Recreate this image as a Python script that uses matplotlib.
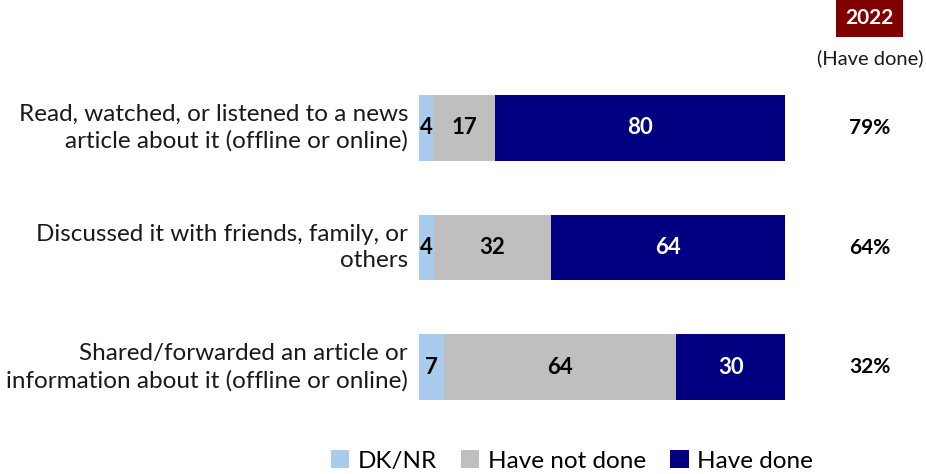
import matplotlib
matplotlib.use("Agg")
import matplotlib.pyplot as plt
from matplotlib.patches import Patch

categories = ["Read, watched, or listened to a news\narticle about it (offline or online)",
              "Discussed it with friends, family, or\nothers",
              "Shared/forwarded an article or\ninformation about it (offline or online)"]
dknr = [4, 4, 7]
not_done = [17, 32, 64]
done = [80, 64, 30]
pct_2022 = ["79%", "64%", "32%"]
series_names = ["DK/NR", "Have not done", "Have done"]
colors = ["#A9CBEE", "#BFBFBF", "#000080"]
label_colors = ["#000000", "#000000", "#FFFFFF"]

plt.rcParams['font.family'] = ['Lato', 'DejaVu Sans']

W, H = 926, 474
fig = plt.figure(figsize=(W/100, H/100), dpi=100)
# centers at 128 px and 367 px -> 119.5 px per row
ax = fig.add_axes([419/W, 1 - 427/H, (785-419)/W, (427-68)/H])

y = [0, 1, 2]
totals = [a + b + c for a, b, c in zip(dknr, not_done, done)]
left = [0.0, 0.0, 0.0]
for vals, col, lc, name in zip([dknr, not_done, done], colors, label_colors, series_names):
    widths = [v / t * 100 for v, t in zip(vals, totals)]
    ax.barh(y, widths, left=left, color=col, height=0.55, label=name)
    for yi, v, w, l in zip(y, vals, widths, left):
        ax.text(l + w/2, yi, str(v), ha='center', va='center', color=lc,
                fontsize=16, fontweight='bold')
    left = [a + b for a, b in zip(left, widths)]

ax.set_ylim(2.5, -0.5)
ax.set_xlim(0, 100)
ax.axis('off')

for yi, cat in zip(y, categories):
    ax.text(-3.0, yi, cat, ha='right', va='center', fontsize=17.5, color='#1a1a1a',
            multialignment='right', linespacing=1.32)

for yi, p in zip(y, pct_2022):
    fig.text(870/W, 1 - (128 + 119.5*yi)/H, p, ha='center', va='center',
             fontsize=15, fontweight='bold')

fig.text(869.5/W, 1 - 18/H, "2022", ha='center', va='center', fontsize=15, fontweight='bold',
         color='white', bbox=dict(boxstyle='square,pad=0.45', facecolor='#800000', edgecolor='none'))
fig.text(870/W, 1 - 58/H, "(Have done)", ha='center', va='center', fontsize=14.5, color='#1a1a1a')

handles = [Patch(facecolor=c, edgecolor='none') for c in colors]
fig.legend(handles, series_names, loc='center', bbox_to_anchor=(572/W, 1 - 461/H), ncol=3,
           frameon=False, fontsize=17.5, handlelength=0.75, handleheight=0.75,
           handletextpad=0.35, columnspacing=1.0, borderaxespad=0)

fig.savefig("out.png", dpi=100)
